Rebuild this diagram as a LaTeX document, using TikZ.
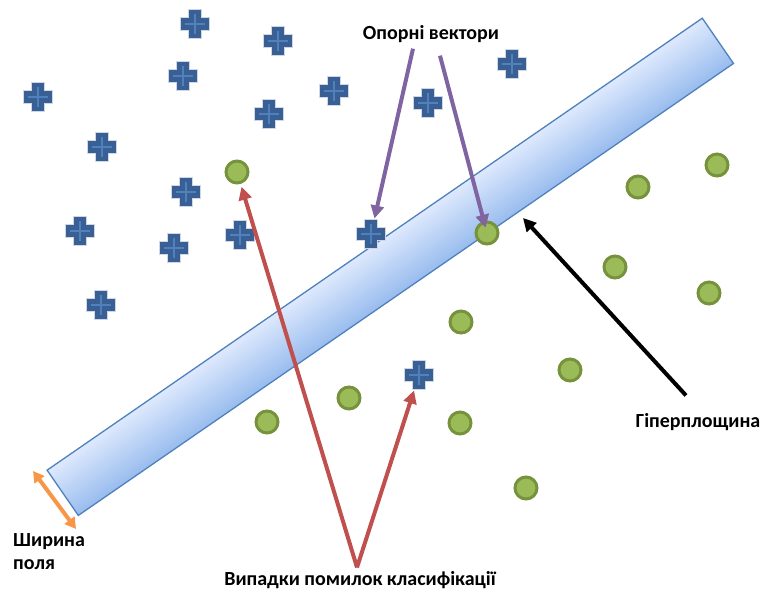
\documentclass[tikz,border=0pt]{standalone}
\usepackage{fontspec}
\setmainfont{Carlito}
\usetikzlibrary{arrows.meta}

\definecolor{plusfill}{RGB}{58,95,148}
\definecolor{plusline}{RGB}{79,129,189}
\definecolor{dotgreen}{RGB}{155,187,89}
\definecolor{ringgreen}{RGB}{118,146,60}
\definecolor{bandline}{RGB}{79,129,189}
\definecolor{bandlight}{RGB}{222,233,253}
\definecolor{banddark}{RGB}{152,188,238}
\definecolor{svpurple}{RGB}{128,100,162}
\definecolor{errred}{RGB}{192,80,77}
\definecolor{widthorange}{RGB}{247,150,70}

\tikzset{
  posmark/.style={minimum size=31pt, inner sep=0pt, outer sep=0pt, path picture={
      \fill[plusfill, draw=white!75!plusfill, line width=0.7pt]
        (path picture bounding box.center) ++(-6.5,-14.5) -- ++(13,0) -- ++(0,8) -- ++(8,0)
        -- ++(0,13) -- ++(-8,0) -- ++(0,8) -- ++(-13,0) -- ++(0,-8) -- ++(-8,0) -- ++(0,-13)
        -- ++(8,0) -- cycle;
      \draw[plusline, line width=1.6pt] (path picture bounding box.center) ++(-10,0) -- ++(20,0);
      \draw[plusline, line width=1.6pt] (path picture bounding box.center) ++(0,-10) -- ++(0,20);
    }},
  negmark/.style={circle, draw=ringgreen, fill=dotgreen, line width=3pt, minimum size=22pt, inner sep=0pt},
  band/.style={draw=bandline, line width=1.3pt, top color=bandlight, bottom color=banddark,
    minimum width=796pt, minimum height=55pt, inner sep=0pt},
  label/.style={font=\fontsize{20}{23}\selectfont\bfseries},
  arrow/.style={line width=4pt, -{Triangle[length=13pt,width=13pt]}},
}

\begin{document}
\begin{tikzpicture}[x=1pt,y=-1pt]
  \useasboundingbox (0,0) rectangle (761,590);

  % points of the first class
  \foreach \name/\px/\py in {p1/195/24, p2/278/41, p3/38/97, p4/183/76, p5/334/91, p6/269/114,
      p7/428/103, p8/512/64, p9/102/147, p10/186/192, p11/80/231, p12/174/248, p13/240/235,
      p15/101/305}
    \node[posmark] (\name) at (\px,\py) {};

  % points of the second class
  \foreach \name/\px/\py in {c1/237/172, c3/717/165, c4/638/187, c5/615/267, c6/709/293,
      c7/461/322, c8/570/370, c9/349/398, c10/267/422, c11/460/423, c12/526/488}
    \node[negmark] (\name) at (\px,\py) {};

  % the margin
  \begin{scope}[transform canvas={shift={(390.3,266.8)}, rotate=34.6}]
    \node[band] (margin) at (0,0) {};
  \end{scope}

  \node[posmark] (p14) at (371,234) {};
  \node[posmark] (p16) at (419,375) {};
  \node[negmark] (c2) at (487,233) {};

  % labels
  \node[label, anchor=base] (sv) at (431,39) {Опорні вектори};
  \node[label, anchor=base] (hyper) at (698,427) {Гіперплощина};
  \node[label, align=left, anchor=north west, inner sep=0pt] (wid) at (13,533) {Ширина\\поля};
  \node[label, anchor=base] (cases) at (360,585) {Випадки помилок класифікації};

  \coordinate (hp) at (523,218);
  \coordinate (w1) at (33,471);
  \coordinate (w2) at (76,529);

  \draw[arrow, svpurple] ([xshift=-18pt,yshift=-3pt]sv.south) -- (p14);
  \draw[arrow, svpurple, shorten >=-7pt] ([xshift=9pt,yshift=-10pt]sv.south) -- (c2);
  \draw[arrow, errred, shorten >=3pt] ([xshift=-3pt]cases.north) -- (c1);
  \draw[arrow, errred] ([xshift=-3pt]cases.north) -- (p16);
  \draw[arrow] ([xshift=-12pt,yshift=14pt]hyper.north) -- (hp);
  \draw[widthorange, line width=4pt, {Triangle[length=11pt,width=12pt]}-{Triangle[length=11pt,width=12pt]}] (w1) -- (w2);
\end{tikzpicture}
\end{document}
